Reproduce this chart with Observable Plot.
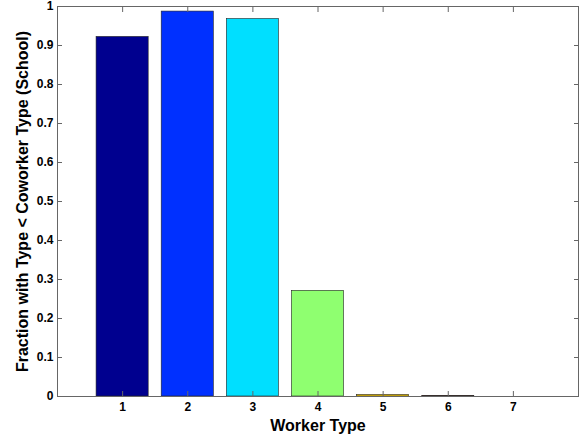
<!DOCTYPE html>
<html>
<head>
<meta charset="utf-8">
<script src="https://cdn.jsdelivr.net/npm/d3@7"></script>
<script src="https://cdn.jsdelivr.net/npm/@observablehq/plot@0.6"></script>
<style>
  html, body { margin: 0; padding: 0; background: #fff; }
  svg { font-family: "Liberation Sans", Arial, sans-serif; }
</style>
</head>
<body>
<div id="chart"></div>
<script>
const types = [1, 2, 3, 4, 5, 6, 7];
const fractions = [0.922, 0.987, 0.968, 0.271, 0.004, 0.001, 0.0];
const colors = ["#00008f", "#0030ff", "#00dfff", "#8fff70", "#ffcf00", "#ff3000", "#800000"];
const yTicks = [0, 0.1, 0.2, 0.3, 0.4, 0.5, 0.6, 0.7, 0.8, 0.9, 1];
const yTickLabels = ["0", "0.1", "0.2", "0.3", "0.4", "0.5", "0.6", "0.7", "0.8", "0.9", "1"];
const xLabel = "Worker Type";
const yLabel = "Fraction with Type < Coworker Type (School)";
const barWidth = 0.8;

const data = types.map((t, i) => ({type: t, value: fractions[i], color: colors[i]}));

const chart = Plot.plot({
  width: 581,
  height: 438,
  marginLeft: 57,
  marginRight: 3,
  marginTop: 6,
  marginBottom: 42,
  style: {fontFamily: "Liberation Sans, Arial, sans-serif", background: "#fff", overflow: "visible"},
  x: {domain: [0, 8], label: null},
  y: {domain: [0, 1], label: null},
  marks: [
    Plot.rectY(data, {
      x1: d => d.type - barWidth / 2,
      x2: d => d.type + barWidth / 2,
      y1: 0,
      y2: "value",
      fill: "color",
      stroke: "#222",
      strokeWidth: 0.6
    }),
    Plot.frame({stroke: "#666", strokeWidth: 1}),
    // inward ticks
    Plot.axisY({ticks: yTicks, anchor: "left", tickSize: 5, dx: 5, text: null, label: null, stroke: "#666"}),
    Plot.axisY({ticks: yTicks, anchor: "right", tickSize: 5, dx: -5, text: null, label: null, stroke: "#666"}),
    Plot.axisX({ticks: types, anchor: "bottom", tickSize: 5, dy: -5, text: null, label: null, stroke: "#666"}),
    Plot.axisX({ticks: types, anchor: "top", tickSize: 5, dy: 5, text: null, label: null, stroke: "#666"}),
    // labels
    Plot.axisY({ticks: yTicks, anchor: "left", tickSize: 0, tickPadding: 4,
      tickFormat: (d, i) => yTickLabels[i], fontSize: 12, fontWeight: "bold", fill: "#000",
      label: null}),
    Plot.axisX({ticks: types, anchor: "bottom", tickSize: 0, tickPadding: 6,
      tickFormat: d => String(d), fontSize: 12, fontWeight: "bold", fill: "#000",
      label: null}),
    Plot.text([xLabel], {frameAnchor: "bottom", textAnchor: "middle", dy: 34, text: d => d, fontSize: 16, fontWeight: "bold", fill: "#000"}),
    Plot.text([yLabel], {frameAnchor: "left", textAnchor: "middle", dx: -35, rotate: -90, text: d => d, fontSize: 16, fontWeight: "bold", fill: "#000"})
  ]
});
document.getElementById("chart").appendChild(chart);
</script>
</body>
</html>
